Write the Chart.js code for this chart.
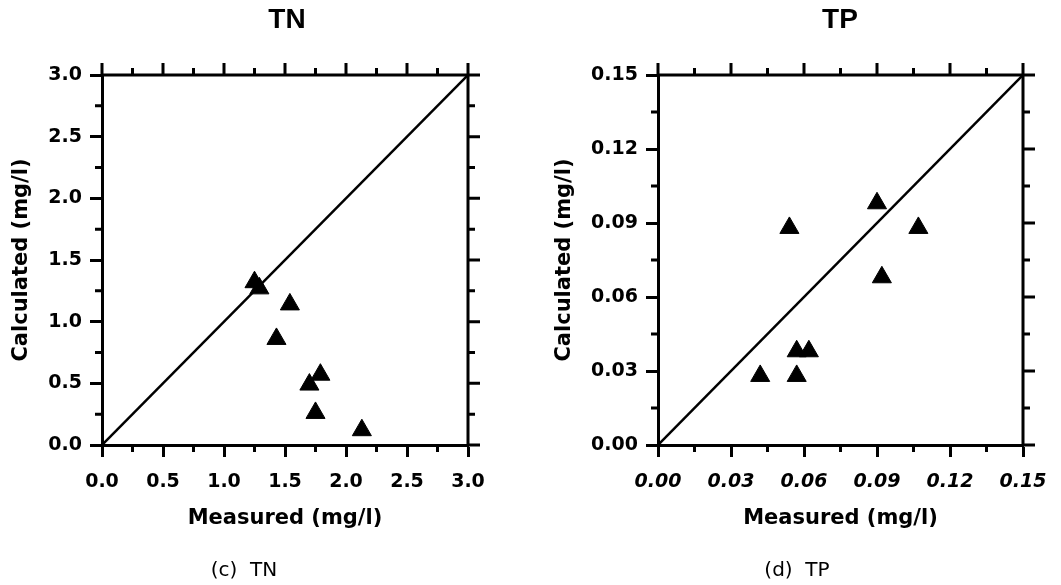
<!DOCTYPE html>
<html>
<head>
<meta charset="utf-8">
<script src="https://cdn.jsdelivr.net/npm/chart.js@4/dist/chart.umd.min.js"></script>
<style>
  body { margin: 0; background: #fff; }
  #wrap { position: relative; width: 1061px; height: 585px; overflow: hidden; }
  .box { position: absolute; top: 0; height: 585px; }
  .title { position: absolute; font: bold 28px "Liberation Sans", Arial, sans-serif; color: #000; transform: translateX(-50%); top: 3px; }
  .cap { position: absolute; font: 20px "DejaVu Sans", sans-serif; color: #000; transform: translateX(-50%); top: 557px; white-space: pre; }
</style>
</head>
<body>
<div id="wrap">
  <div class="box" style="left:0;width:530px"><canvas id="tnChart" width="530" height="585"></canvas></div>
  <div class="box" style="left:530px;width:531px"><canvas id="tpChart" width="531" height="585"></canvas></div>
  <div class="title" style="left:287px">TN</div>
  <div class="title" style="left:840px">TP</div>
  <div class="cap" style="left:244px">(c)  TN</div>
  <div class="cap" style="left:797px">(d)  TP</div>
</div>
<script>
// TN data
const tnMeasured = [1.25, 1.29, 1.54, 1.43, 1.70, 1.79, 1.75, 2.13];
const tnCalculated = [1.32, 1.27, 1.14, 0.86, 0.49, 0.57, 0.26, 0.12];
const tnTicks = [0, 0.5, 1.0, 1.5, 2.0, 2.5, 3.0];
const tnMinor = [0.25, 0.75, 1.25, 1.75, 2.25, 2.75];

// TP data
const tpMeasured = [0.090, 0.054, 0.107, 0.092, 0.057, 0.062, 0.042, 0.057];
const tpCalculated = [0.098, 0.088, 0.088, 0.068, 0.038, 0.038, 0.028, 0.028];
const tpTicks = [0, 0.03, 0.06, 0.09, 0.12, 0.15];
const tpMinor = [0.015, 0.045, 0.075, 0.105, 0.135];

const FONT = '"DejaVu Sans", sans-serif';

// draws minor ticks and the top/right frame with its ticks
const framePlugin = {
  id: 'frame',
  afterDraw(chart, args, opts) {
    const c = chart.ctx, a = chart.chartArea;
    const xs = chart.scales.x, ys = chart.scales.y;
    c.save();
    c.strokeStyle = '#000';
    c.lineWidth = 3;
    c.beginPath();
    c.moveTo(a.left, a.top); c.lineTo(a.right, a.top);
    c.moveTo(a.right, a.top); c.lineTo(a.right, a.bottom);
    opts.major.forEach(v => {
      const px = xs.getPixelForValue(v), py = ys.getPixelForValue(v);
      c.moveTo(px, a.top); c.lineTo(px, a.top - 12);
      c.moveTo(a.right, py); c.lineTo(a.right + 12, py);
    });
    opts.minor.forEach(v => {
      const px = xs.getPixelForValue(v), py = ys.getPixelForValue(v);
      c.moveTo(px, a.top); c.lineTo(px, a.top - 7);
      c.moveTo(px, a.bottom); c.lineTo(px, a.bottom + 7);
      c.moveTo(a.right, py); c.lineTo(a.right + 7, py);
      c.moveTo(a.left, py); c.lineTo(a.left - 7, py);
    });
    c.stroke();
    c.restore();
  }
};

function makeChart(id, measured, calculated, ticks, minor, digits, yWidth, rightPad, yTitlePad, xItalic) {
  const maxV = ticks[ticks.length - 1];
  const pts = measured.map((m, i) => ({ x: m, y: calculated[i] }));
  return new Chart(document.getElementById(id), {
    type: 'scatter',
    data: {
      datasets: [
        {
          data: [{ x: 0, y: 0 }, { x: maxV, y: maxV }],
          showLine: true,
          borderColor: '#000',
          borderWidth: 2.5,
          pointRadius: 0
        },
        {
          data: pts,
          pointStyle: 'triangle',
          pointRadius: 11,
          backgroundColor: '#000',
          borderColor: '#000',
          borderWidth: 1
        }
      ]
    },
    options: {
      responsive: false,
      animation: false,
      layout: { padding: { left: 0, right: rightPad, top: 75, bottom: 45 } },
      plugins: {
        legend: { display: false },
        tooltip: { enabled: false },
        frame: { major: ticks, minor: minor }
      },
      scales: {
        x: {
          type: 'linear',
          min: 0, max: maxV,
          afterBuildTicks: s => { s.ticks = ticks.map(v => ({ value: v })); },
          afterFit: s => { s.height = 95; },
          border: { color: '#000', width: 3 },
          grid: { drawOnChartArea: false, tickLength: 12, tickWidth: 3, tickColor: '#000' },
          ticks: {
            color: '#000', padding: 14,
            font: { family: FONT, size: 19, weight: 'bold', style: xItalic ? 'italic' : 'normal' },
            callback: v => v.toFixed(digits)
          },
          title: {
            display: true, text: 'Measured (mg/l)', color: '#000',
            font: { family: FONT, size: 21, weight: 'bold' },
            padding: { top: 0, bottom: 9 }
          }
        },
        y: {
          type: 'linear',
          min: 0, max: maxV,
          afterBuildTicks: s => { s.ticks = ticks.map(v => ({ value: v })); },
          afterFit: s => { s.width = yWidth; },
          border: { color: '#000', width: 3 },
          grid: { drawOnChartArea: false, tickLength: 12, tickWidth: 3, tickColor: '#000' },
          ticks: {
            color: '#000', padding: 8,
            font: { family: FONT, size: 19, weight: 'bold' },
            callback: v => v.toFixed(digits)
          },
          title: {
            display: true, text: 'Calculated (mg/l)', color: '#000',
            font: { family: FONT, size: 21, weight: 'bold' },
            padding: { top: yTitlePad, bottom: 0 }
          }
        }
      }
    },
    plugins: [framePlugin]
  });
}

makeChart('tnChart', tnMeasured, tnCalculated, tnTicks, tnMinor, 1, 102, 62, 9, false);
makeChart('tpChart', tpMeasured, tpCalculated, tpTicks, tpMinor, 2, 128, 38, 22, true);
</script>
</body>
</html>
